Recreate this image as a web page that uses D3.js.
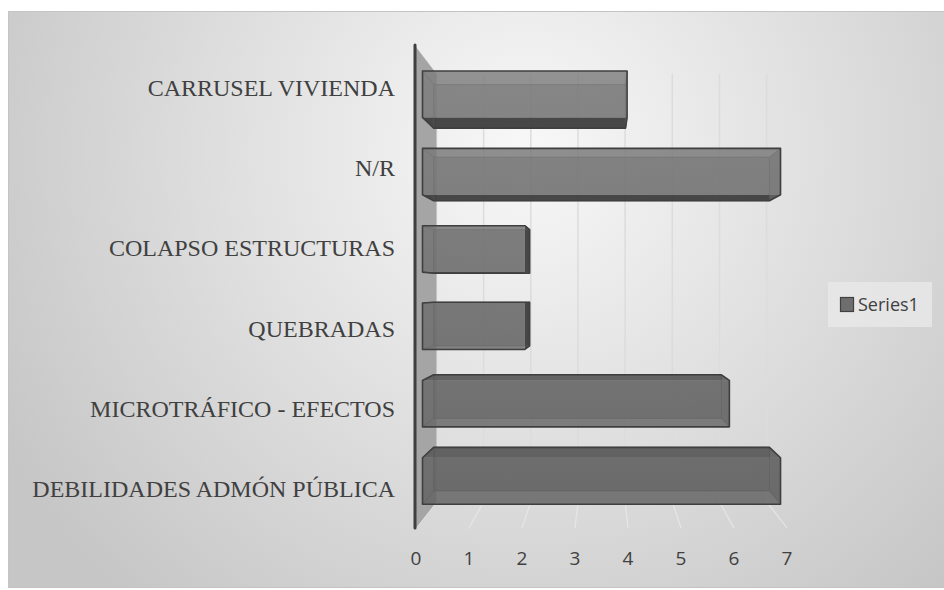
<!DOCTYPE html>
<html>
<head>
<meta charset="utf-8">
<script src="https://cdn.jsdelivr.net/npm/d3@7"></script>
<style>
  html, body { margin: 0; padding: 0; background: #fff; }
  svg { display: block; }
</style>
</head>
<body>
<div id="chart"></div>
<script>
(function () {
  const categories = ['CARRUSEL VIVIENDA', 'N/R', 'COLAPSO ESTRUCTURAS', 'QUEBRADAS',
    'MICROTRÁFICO - EFECTOS', 'DEBILIDADES ADMÓN PÚBLICA'];
  const values = [4, 7, 2, 2, 6, 7];
  const ticks = [0, 1, 2, 3, 4, 5, 6, 7];
  const seriesName = 'Series1';

  const W = 944, H = 590;
  const svg = d3.select('#chart').append('svg')
    .attr('width', W).attr('height', H);

  const defs = svg.append('defs');
  const bg = defs.append('radialGradient')
    .attr('id', 'bg').attr('gradientUnits', 'userSpaceOnUse')
    .attr('cx', 525).attr('cy', 150).attr('r', 600);
  bg.append('stop').attr('offset', 0).attr('stop-color', '#f8f8f8');
  bg.append('stop').attr('offset', 1).attr('stop-color', '#c6c6c6');

  const barGrad = defs.append('linearGradient')
    .attr('id', 'barFill').attr('gradientUnits', 'userSpaceOnUse')
    .attr('x1', 0).attr('y1', 60).attr('x2', 0).attr('y2', 510);
  barGrad.append('stop').attr('offset', 0).attr('stop-color', '#7e7e7e');
  barGrad.append('stop').attr('offset', 1).attr('stop-color', '#606060');

  // chart area
  svg.append('rect')
    .attr('x', 8.5).attr('y', 11.5).attr('width', W).attr('height', 576)
    .attr('fill', 'url(#bg)').attr('stroke', '#c4c4c4');

  // ---------- front-plane scales + simple perspective ----------
  const x = d3.scaleLinear().domain([0, 7]).range([416, 787]);
  const y = d3.scaleBand().domain(categories).range([47, 528])
    .paddingInner(0.4).paddingOuter(0.2);
  const VX = 602, VY = 290;          // vanishing centre
  const S_BACK = 0.89;               // back wall depth
  const S_BAR0 = 0.965, S_BAR1 = 0.905;
  const P = (px, py, s) => [VX + (px - VX) * s, VY + (py - VY) * s];
  const poly = pts => pts.map(p => p.join(',')).join(' ');

  const yTop = 47, yBot = 528;

  // back wall + floor gridlines
  const grid = svg.append('g');
  ticks.forEach(t => {
    const b0 = P(x(t), yTop, S_BACK), b1 = P(x(t), yBot, S_BACK), f1 = P(x(t), yBot, 1);
    grid.append('line').attr('x1', b0[0]).attr('y1', b0[1]).attr('x2', b1[0]).attr('y2', b1[1])
      .attr('stroke', '#dcdcdc').attr('stroke-width', 1.5);
    grid.append('line').attr('x1', b1[0]).attr('y1', b1[1]).attr('x2', f1[0]).attr('y2', f1[1])
      .attr('stroke', '#e6e6e6').attr('stroke-width', 1.2);
  });

  // side wall
  svg.append('polygon')
    .attr('points', poly([P(x(0), yTop, 1), P(x(0), yTop, S_BACK), P(x(0), yBot, S_BACK), P(x(0), yBot, 1)]))
    .attr('fill', '#a5a5a5');
  svg.append('line')
    .attr('x1', x(0) - 1).attr('y1', yTop - 2).attr('x2', x(0) - 1).attr('y2', yBot)
    .attr('stroke', '#3f3f3f').attr('stroke-width', 3).attr('stroke-linecap', 'round');

  // ---------- bars ----------
  const bars = svg.append('g');
  categories.forEach((c, i) => {
    const v = values[i];
    const x0 = x(0), x1 = x(v), y0 = y(c), y1 = y(c) + y.bandwidth();
    const f = [P(x0, y0, S_BAR0), P(x1, y0, S_BAR0), P(x1, y1, S_BAR0), P(x0, y1, S_BAR0)];
    const b = [P(x0, y0, S_BAR1), P(x1, y0, S_BAR1), P(x1, y1, S_BAR1), P(x0, y1, S_BAR1)];
    const g = bars.append('g');
    // back face
    g.append('polygon').attr('points', poly(b)).attr('fill', 'url(#barFill)').attr('opacity', 0.55);
    // top or bottom face
    const above = (y0 + y1) / 2 < VY;
    if (above) {
      g.append('polygon').attr('points', poly([f[3], f[2], b[2], b[3]]))
        .attr('fill', '#3c3c3c').attr('opacity', 0.9);
    } else {
      g.append('polygon').attr('points', poly([f[0], f[1], b[1], b[0]]))
        .attr('fill', '#5c5c5c').attr('opacity', 0.9);
    }
    // end face
    if (x1 < VX) {
      g.append('polygon').attr('points', poly([f[1], b[1], b[2], f[2]]))
        .attr('fill', '#3c3c3c').attr('opacity', 0.9);
    } else {
      g.append('polygon').attr('points', poly([f[1], b[1], b[2], f[2]]))
        .attr('fill', '#6a6a6a').attr('opacity', 0.6);
    }
    // inner edges (seen through)
    g.append('polygon').attr('points', poly(b))
      .attr('fill', 'none').attr('stroke', '#555').attr('stroke-width', 1).attr('opacity', 0.7);
    [0, 1, 2, 3].forEach(k => {
      g.append('line').attr('x1', f[k][0]).attr('y1', f[k][1]).attr('x2', b[k][0]).attr('y2', b[k][1])
        .attr('stroke', '#555').attr('stroke-width', 1).attr('opacity', 0.7);
    });
    // front face
    g.append('polygon').attr('points', poly(f))
      .attr('fill', 'url(#barFill)').attr('opacity', 0.82);
    // outer silhouette
    const hull = d3.polygonHull(f.concat(b));
    g.append('polygon').attr('points', poly(hull))
      .attr('fill', 'none').attr('stroke', '#3f3f3f').attr('stroke-width', 1.6)
      .attr('stroke-linejoin', 'round');
  });

  // ---------- labels ----------
  svg.append('g').selectAll('text').data(categories).join('text')
    .attr('x', 395).attr('y', d => y(d) + y.bandwidth() / 2 + 1)
    .attr('text-anchor', 'end').attr('dominant-baseline', 'central')
    .attr('font-family', '"Liberation Serif", "Times New Roman", serif')
    .attr('font-size', 24).attr('fill', '#404040')
    .text(d => d);

  svg.append('g').selectAll('text').data(ticks).join('text')
    .attr('x', d => x(d)).attr('y', 565)
    .attr('text-anchor', 'middle')
    .attr('font-family', '"Open Sans", sans-serif')
    .attr('font-size', 19).attr('fill', '#404040')
    .text(d => d);

  // ---------- legend ----------
  const lg = svg.append('g');
  lg.append('rect').attr('x', 828).attr('y', 282).attr('width', 104).attr('height', 45)
    .attr('fill', '#e9e9e9').attr('opacity', 0.8);
  lg.append('rect').attr('x', 840.5).attr('y', 297.5).attr('width', 13).attr('height', 14)
    .attr('fill', '#6e6e6e').attr('stroke', '#404040').attr('stroke-width', 1.2);
  lg.append('text').attr('x', 858).attr('y', 311)
    .attr('font-family', '"Open Sans", sans-serif')
    .attr('font-size', 18).attr('fill', '#404040')
    .text(seriesName);
})();
</script>
</body>
</html>
